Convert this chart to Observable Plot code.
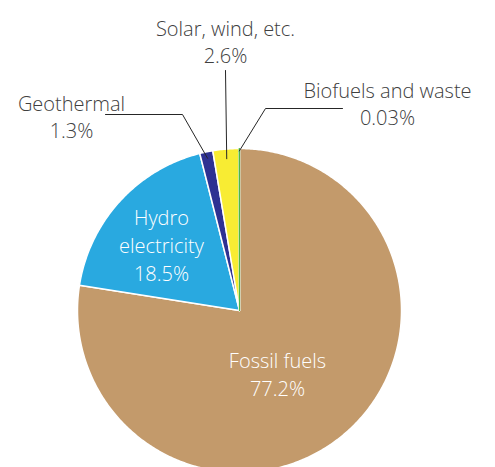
<!DOCTYPE html>
<html><head><meta charset="utf-8">
<script src="https://cdn.jsdelivr.net/npm/d3@7"></script>
<script src="https://cdn.jsdelivr.net/npm/@observablehq/plot@0.6"></script>
<style>body{margin:0;background:#fff;overflow:hidden}</style>
</head><body><div id="chart"></div>
<script>
// ---- data ----
const categories = ["Fossil fuels", "Hydro\nelectricity", "Geothermal", "Solar, wind, etc.", "Biofuels and waste"];
const shares = [77.2, 18.5, 1.3, 2.6, 0.03];
const shareLabels = ["77.2%", "18.5%", "1.3%", "2.6%", "0.03%"];
const colors = ["#C39A6B", "#29A9E0", "#2E3192", "#F8EC33", "#4DB848"];

// ---- layout (pixel units of the identity x/y scales) ----
const W = 495, H = 467;
const center = [239, 310], R = 162;
const labelAt = [[277, 373], [161, 244], [71, 115], [225, 40], [387, 102]];
const inside = [true, true, false, false, false];
// leader lines: label-side points, then slice end at fraction of radius
const leaderElbows = [null, null, [[105, 114], [182, 114]], [[225, 70]], [[342, 108], [265, 108]]];
const leaderRadius = [0, 0, 0.96, 0.94, 0.985];

const rows = categories.map((c, i) => ({name: c, share: shares[i], label: shareLabels[i], i}));
const arcs = d3.pie().sort(null).value(d => d.share)(rows);
const pt = (a, r) => [center[0] + r * Math.sin(a), center[1] - r * Math.cos(a)];

const slicePts = [];
arcs.forEach(p => {
  const n = Math.max(2, Math.ceil((p.endAngle - p.startAngle) / 0.01));
  slicePts.push({name: p.data.name, px: center[0], py: center[1]});
  for (let k = 0; k <= n; k++) {
    const [x, y] = pt(p.startAngle + (p.endAngle - p.startAngle) * k / n, R);
    slicePts.push({name: p.data.name, px: x, py: y});
  }
});
const tiny = new Set(rows.filter(d => d.share < 0.5).map(d => d.name));
const tinyPts = slicePts.filter(d => tiny.has(d.name));

const leaders = [];
arcs.forEach((p, i) => {
  if (!leaderElbows[i]) return;
  leaderElbows[i].forEach(([x, y]) => leaders.push({name: p.data.name, px: x, py: y}));
  const [x, y] = pt((p.startAngle + p.endAngle) / 2, R * leaderRadius[i]);
  leaders.push({name: p.data.name, px: x, py: y});
});

const labels = rows.map((d, i) => ({text: d.name + "\n" + d.label, lx: labelAt[i][0], ly: labelAt[i][1], inside: inside[i]}));

const chart = Plot.plot({
  width: W, height: H, margin: 0,
  x: {domain: [0, W], range: [0, W], axis: null},
  y: {domain: [0, H], range: [0, H], axis: null},
  color: {domain: categories, range: colors},
  style: {fontFamily: "'Open Sans', sans-serif", background: "white"},
  marks: [
    Plot.line(slicePts, {x: "px", y: "py", z: "name", fill: "name", stroke: "white", strokeWidth: 1.5, curve: "linear-closed"}),
    Plot.line(tinyPts, {x: "px", y: "py", z: "name", fill: "name", stroke: "name", strokeWidth: 1.2, curve: "linear-closed"}),
    Plot.line(leaders, {x: "px", y: "py", z: "name", stroke: "#262626", strokeWidth: 1}),
    Plot.text(labels.filter(d => d.inside), {x: "lx", y: "ly", text: "text", fill: "white", fontSize: 20, fontWeight: 300, lineHeight: 1.4, textAnchor: "middle"}),
    Plot.text(labels.filter(d => !d.inside), {x: "lx", y: "ly", text: "text", fill: "#404040", fontSize: 20, fontWeight: 300, lineHeight: 1.35, textAnchor: "middle"})
  ]
});
document.getElementById("chart").append(chart);
</script>
</body></html>
